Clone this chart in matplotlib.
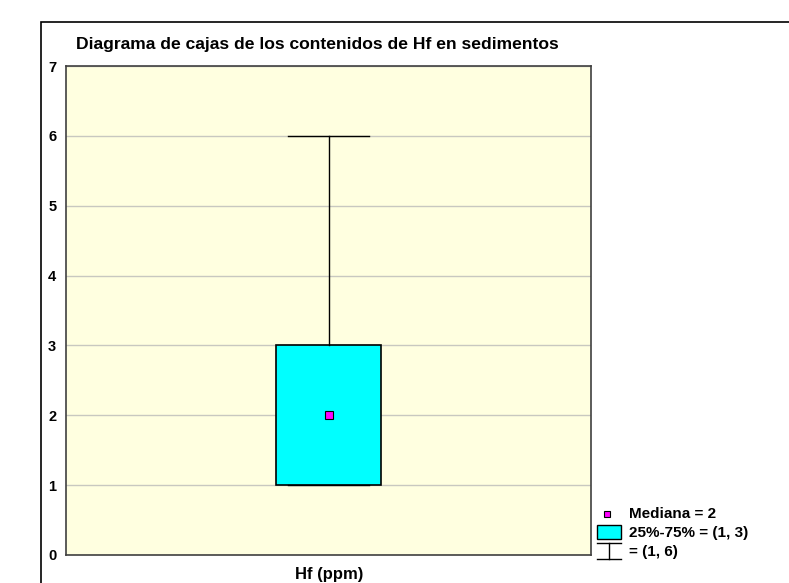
import matplotlib
matplotlib.use("Agg")
import matplotlib.pyplot as plt
from matplotlib.patches import Rectangle
from matplotlib.lines import Line2D

plt.rcParams["font.family"] = ["Liberation Sans", "DejaVu Sans"]
plt.rcParams["font.weight"] = "bold"

# data
variable = "Hf (ppm)"
q1, median, q3 = 1, 2, 3
whisker_lo, whisker_hi = 1, 6
yticks = [0, 1, 2, 3, 4, 5, 6, 7]

fig = plt.figure(figsize=(7.89, 5.83), dpi=100)

# outer chart frame (runs off the right / bottom edge like the original)
fig.patches.append(Rectangle((40.5 / 789, -0.05), 1.0, 1 - 22 / 583 + 0.05,
                             transform=fig.transFigure, fill=False,
                             edgecolor="black", linewidth=1.2))

ax = fig.add_axes([66 / 789, 1 - 555 / 583, 525 / 789, 489 / 583])
ax.set_facecolor("#ffffe0")

stats = [dict(med=median, q1=q1, q3=q3, whislo=whisker_lo, whishi=whisker_hi, fliers=[])]
ax.bxp(stats, positions=[1], widths=0.4, patch_artist=True, capwidths=0.305,
       boxprops=dict(facecolor="#00ffff", edgecolor="black", linewidth=1.2),
       whiskerprops=dict(color="black", linewidth=1),
       capprops=dict(color="black", linewidth=1),
       medianprops=dict(visible=False), zorder=3)
ax.plot([1], [median], marker="s", markersize=6, color="#ff00ff",
        markeredgecolor="black", markeredgewidth=0.8, zorder=5)

ax.set_xlim(0, 2)
ax.set_ylim(0, 7)
ax.set_xticks([])
ax.set_yticks(yticks)
ax.set_yticklabels([str(t) for t in yticks], fontsize=10.5, fontweight="bold")
ax.tick_params(axis="y", length=0, pad=7)
ax.grid(axis="y", color="#c8c8c0", linewidth=1)
ax.set_axisbelow(True)
for s in ax.spines.values():
    s.set_color("#404040")
    s.set_linewidth(1.2)

fig.text(76 / 789, 1 - 44 / 583, "Diagrama de cajas de los contenidos de Hf en sedimentos",
         fontsize=12.6, fontweight="bold", va="center", ha="left")
fig.text(329 / 789, 1 - 574 / 583, variable, fontsize=12, fontweight="bold",
         va="center", ha="center")

# legend, drawn in pixel coordinates
lg = fig.add_axes([0, 0, 1, 1], facecolor="none")
lg.set_xlim(0, 789)
lg.set_ylim(583, 0)
lg.axis("off")
lg.add_patch(Rectangle((604, 511), 6, 6, facecolor="#ff00ff", edgecolor="black", linewidth=0.8))
lg.text(629, 514, "Mediana = %g" % median, fontsize=11, fontweight="bold", va="center")
lg.add_patch(Rectangle((597, 525), 24, 14, facecolor="#00ffff", edgecolor="black", linewidth=1))
lg.text(629, 533, "25%%-75%% = (%g, %g)" % (q1, q3), fontsize=11, fontweight="bold", va="center")
lg.add_line(Line2D([597, 621], [543, 543], color="black", linewidth=1))
lg.add_line(Line2D([609, 609], [543, 559], color="black", linewidth=1))
lg.add_line(Line2D([597, 621], [559, 559], color="black", linewidth=1))
lg.text(629, 552, "= (%g, %g)" % (whisker_lo, whisker_hi), fontsize=11, fontweight="bold", va="center")

fig.savefig("out.png", dpi=100)
